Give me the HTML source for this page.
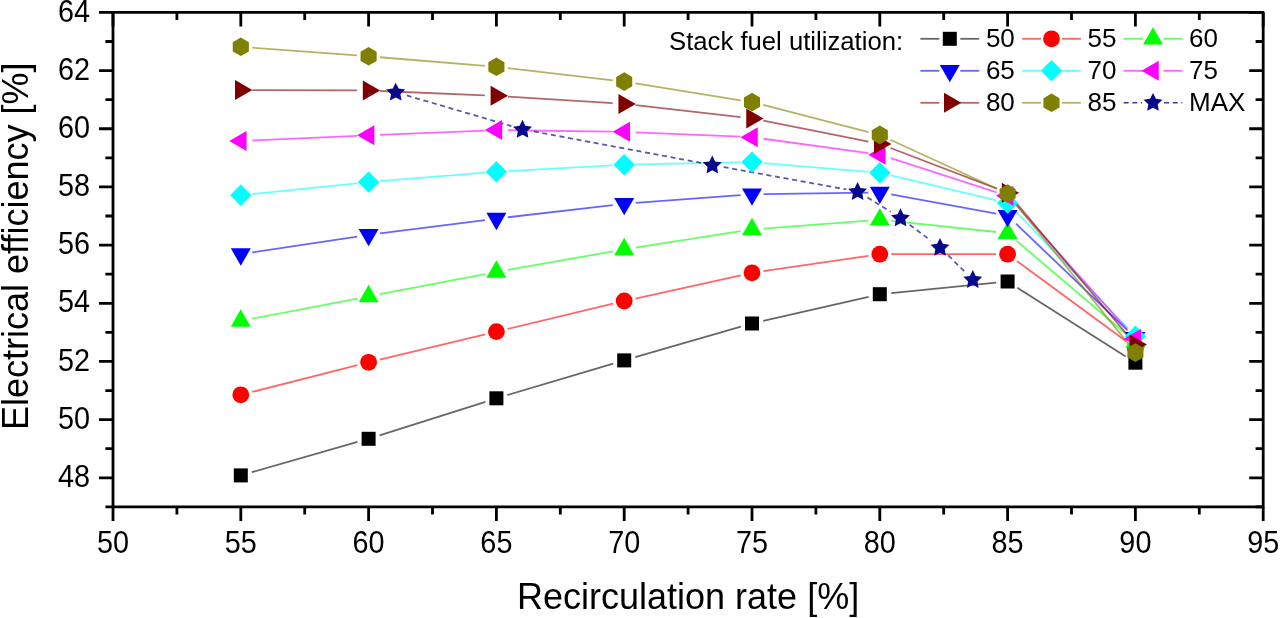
<!DOCTYPE html><html><head><meta charset="utf-8"><style>html,body{margin:0;padding:0;background:#fff;width:1280px;height:618px;overflow:hidden}svg{display:block;will-change:transform}text{font-family:'Liberation Sans',sans-serif;fill:#000}</style></head><body>
<svg width="1280" height="618" viewBox="0 0 1280 618">
<rect width="1280" height="618" fill="#fff"/>
<line x1="251.86" y1="472.23" x2="357.54" y2="441.97" stroke="#000000" stroke-width="1.8" stroke-opacity="0.6"/><line x1="379.56" y1="435.33" x2="485.44" y2="401.77" stroke="#000000" stroke-width="1.8" stroke-opacity="0.6"/><line x1="507.43" y1="395.03" x2="613.17" y2="363.67" stroke="#000000" stroke-width="1.8" stroke-opacity="0.6"/><line x1="635.25" y1="357.21" x2="740.95" y2="326.69" stroke="#000000" stroke-width="1.8" stroke-opacity="0.6"/><line x1="763.21" y1="320.93" x2="868.59" y2="296.77" stroke="#000000" stroke-width="1.8" stroke-opacity="0.6"/><line x1="891.24" y1="293.06" x2="996.16" y2="282.64" stroke="#000000" stroke-width="1.8" stroke-opacity="0.6"/><line x1="1017.31" y1="287.67" x2="1125.69" y2="356.53" stroke="#000000" stroke-width="1.8" stroke-opacity="0.6"/>
<line x1="251.95" y1="391.97" x2="357.45" y2="365.13" stroke="#ff0000" stroke-width="1.8" stroke-opacity="0.6"/><line x1="379.78" y1="359.61" x2="485.22" y2="334.29" stroke="#ff0000" stroke-width="1.8" stroke-opacity="0.6"/><line x1="507.58" y1="328.92" x2="613.02" y2="303.68" stroke="#ff0000" stroke-width="1.8" stroke-opacity="0.6"/><line x1="635.43" y1="298.52" x2="740.77" y2="275.28" stroke="#ff0000" stroke-width="1.8" stroke-opacity="0.6"/><line x1="763.38" y1="271.14" x2="868.42" y2="255.86" stroke="#ff0000" stroke-width="1.8" stroke-opacity="0.6"/><line x1="891.30" y1="254.20" x2="996.10" y2="254.20" stroke="#ff0000" stroke-width="1.8" stroke-opacity="0.6"/><line x1="1016.87" y1="261.00" x2="1126.13" y2="341.20" stroke="#ff0000" stroke-width="1.8" stroke-opacity="0.6"/>
<line x1="252.09" y1="318.73" x2="357.31" y2="298.57" stroke="#00ff00" stroke-width="1.8" stroke-opacity="0.6"/><line x1="379.89" y1="294.23" x2="485.11" y2="274.07" stroke="#00ff00" stroke-width="1.8" stroke-opacity="0.6"/><line x1="507.73" y1="269.91" x2="612.87" y2="251.39" stroke="#00ff00" stroke-width="1.8" stroke-opacity="0.6"/><line x1="635.56" y1="247.62" x2="740.64" y2="231.18" stroke="#00ff00" stroke-width="1.8" stroke-opacity="0.6"/><line x1="763.47" y1="228.53" x2="868.33" y2="220.57" stroke="#00ff00" stroke-width="1.8" stroke-opacity="0.6"/><line x1="891.24" y1="220.91" x2="996.16" y2="231.99" stroke="#00ff00" stroke-width="1.8" stroke-opacity="0.6"/><line x1="1016.36" y1="240.65" x2="1126.64" y2="334.55" stroke="#00ff00" stroke-width="1.8" stroke-opacity="0.6"/>
<line x1="252.17" y1="252.38" x2="357.23" y2="236.52" stroke="#0000ff" stroke-width="1.8" stroke-opacity="0.6"/><line x1="380.01" y1="233.35" x2="484.99" y2="220.05" stroke="#0000ff" stroke-width="1.8" stroke-opacity="0.6"/><line x1="507.82" y1="217.28" x2="612.78" y2="205.12" stroke="#0000ff" stroke-width="1.8" stroke-opacity="0.6"/><line x1="635.67" y1="202.95" x2="740.53" y2="195.15" stroke="#0000ff" stroke-width="1.8" stroke-opacity="0.6"/><line x1="763.50" y1="194.13" x2="868.30" y2="192.57" stroke="#0000ff" stroke-width="1.8" stroke-opacity="0.6"/><line x1="891.11" y1="194.46" x2="996.29" y2="213.64" stroke="#0000ff" stroke-width="1.8" stroke-opacity="0.6"/><line x1="1015.92" y1="223.64" x2="1127.08" y2="329.86" stroke="#0000ff" stroke-width="1.8" stroke-opacity="0.6"/>
<line x1="252.24" y1="194.12" x2="357.16" y2="183.28" stroke="#00ffff" stroke-width="1.8" stroke-opacity="0.6"/><line x1="380.06" y1="181.17" x2="484.94" y2="172.63" stroke="#00ffff" stroke-width="1.8" stroke-opacity="0.6"/><line x1="507.88" y1="171.07" x2="612.72" y2="165.33" stroke="#00ffff" stroke-width="1.8" stroke-opacity="0.6"/><line x1="635.70" y1="164.47" x2="740.50" y2="162.33" stroke="#00ffff" stroke-width="1.8" stroke-opacity="0.6"/><line x1="763.46" y1="163.06" x2="868.34" y2="171.84" stroke="#00ffff" stroke-width="1.8" stroke-opacity="0.6"/><line x1="890.99" y1="175.44" x2="996.41" y2="200.36" stroke="#00ffff" stroke-width="1.8" stroke-opacity="0.6"/><line x1="1015.56" y1="211.30" x2="1127.44" y2="327.90" stroke="#00ffff" stroke-width="1.8" stroke-opacity="0.6"/>
<line x1="252.29" y1="140.49" x2="357.11" y2="135.81" stroke="#ff00ff" stroke-width="1.8" stroke-opacity="0.6"/><line x1="380.09" y1="134.83" x2="484.91" y2="130.57" stroke="#ff00ff" stroke-width="1.8" stroke-opacity="0.6"/><line x1="507.90" y1="130.25" x2="612.70" y2="131.65" stroke="#ff00ff" stroke-width="1.8" stroke-opacity="0.6"/><line x1="635.69" y1="132.29" x2="740.51" y2="136.71" stroke="#ff00ff" stroke-width="1.8" stroke-opacity="0.6"/><line x1="763.39" y1="138.76" x2="868.41" y2="153.14" stroke="#ff00ff" stroke-width="1.8" stroke-opacity="0.6"/><line x1="890.75" y1="158.22" x2="996.65" y2="192.28" stroke="#ff00ff" stroke-width="1.8" stroke-opacity="0.6"/><line x1="1015.27" y1="204.37" x2="1127.73" y2="330.13" stroke="#ff00ff" stroke-width="1.8" stroke-opacity="0.6"/>
<line x1="252.30" y1="90.04" x2="357.10" y2="90.46" stroke="#800000" stroke-width="1.8" stroke-opacity="0.6"/><line x1="380.09" y1="90.98" x2="484.91" y2="95.32" stroke="#800000" stroke-width="1.8" stroke-opacity="0.6"/><line x1="507.88" y1="96.53" x2="612.72" y2="103.17" stroke="#800000" stroke-width="1.8" stroke-opacity="0.6"/><line x1="635.63" y1="105.21" x2="740.57" y2="117.19" stroke="#800000" stroke-width="1.8" stroke-opacity="0.6"/><line x1="763.28" y1="120.74" x2="868.52" y2="141.66" stroke="#800000" stroke-width="1.8" stroke-opacity="0.6"/><line x1="890.54" y1="148.01" x2="996.86" y2="188.69" stroke="#800000" stroke-width="1.8" stroke-opacity="0.6"/><line x1="1015.01" y1="201.59" x2="1127.99" y2="335.71" stroke="#800000" stroke-width="1.8" stroke-opacity="0.6"/>
<line x1="252.27" y1="47.65" x2="357.13" y2="55.45" stroke="#808000" stroke-width="1.8" stroke-opacity="0.6"/><line x1="380.06" y1="57.24" x2="484.94" y2="65.86" stroke="#808000" stroke-width="1.8" stroke-opacity="0.6"/><line x1="507.82" y1="68.12" x2="612.78" y2="80.28" stroke="#808000" stroke-width="1.8" stroke-opacity="0.6"/><line x1="635.55" y1="83.42" x2="740.65" y2="100.28" stroke="#808000" stroke-width="1.8" stroke-opacity="0.6"/><line x1="763.14" y1="104.96" x2="868.66" y2="132.04" stroke="#808000" stroke-width="1.8" stroke-opacity="0.6"/><line x1="890.25" y1="139.70" x2="997.15" y2="188.80" stroke="#808000" stroke-width="1.8" stroke-opacity="0.6"/><line x1="1014.80" y1="202.56" x2="1128.20" y2="343.64" stroke="#808000" stroke-width="1.8" stroke-opacity="0.6"/>
<line x1="406.74" y1="95.43" x2="511.46" y2="126.07" stroke="#000080" stroke-width="1.8" stroke-opacity="0.65" stroke-dasharray="5 3.7"/><line x1="533.80" y1="131.43" x2="701.00" y2="162.87" stroke="#000080" stroke-width="1.8" stroke-opacity="0.65" stroke-dasharray="5 3.7"/><line x1="723.61" y1="167.06" x2="846.29" y2="189.44" stroke="#000080" stroke-width="1.8" stroke-opacity="0.65" stroke-dasharray="5 3.7"/><line x1="867.40" y1="197.51" x2="890.70" y2="211.79" stroke="#000080" stroke-width="1.8" stroke-opacity="0.65" stroke-dasharray="5 3.7"/><line x1="909.70" y1="224.70" x2="930.80" y2="240.50" stroke="#000080" stroke-width="1.8" stroke-opacity="0.65" stroke-dasharray="5 3.7"/><line x1="948.22" y1="255.44" x2="964.58" y2="271.46" stroke="#000080" stroke-width="1.8" stroke-opacity="0.65" stroke-dasharray="5 3.7"/>
<rect x="233.80" y="468.40" width="14.0" height="14.0" fill="#000000"/>
<rect x="361.60" y="431.80" width="14.0" height="14.0" fill="#000000"/>
<rect x="489.40" y="391.30" width="14.0" height="14.0" fill="#000000"/>
<rect x="617.20" y="353.40" width="14.0" height="14.0" fill="#000000"/>
<rect x="745.00" y="316.50" width="14.0" height="14.0" fill="#000000"/>
<rect x="872.80" y="287.20" width="14.0" height="14.0" fill="#000000"/>
<rect x="1000.60" y="274.50" width="14.0" height="14.0" fill="#000000"/>
<rect x="1128.40" y="355.70" width="14.0" height="14.0" fill="#000000"/>
<circle cx="240.80" cy="394.80" r="8.4" fill="#ff0000"/>
<circle cx="368.60" cy="362.30" r="8.4" fill="#ff0000"/>
<circle cx="496.40" cy="331.60" r="8.4" fill="#ff0000"/>
<circle cx="624.20" cy="301.00" r="8.4" fill="#ff0000"/>
<circle cx="752.00" cy="272.80" r="8.4" fill="#ff0000"/>
<circle cx="879.80" cy="254.20" r="8.4" fill="#ff0000"/>
<circle cx="1007.60" cy="254.20" r="8.4" fill="#ff0000"/>
<circle cx="1135.40" cy="348.00" r="8.4" fill="#ff0000"/>
<polygon points="240.80,309.35 250.80,326.67 230.80,326.67" fill="#00ff00"/>
<polygon points="368.60,284.85 378.60,302.17 358.60,302.17" fill="#00ff00"/>
<polygon points="496.40,260.35 506.40,277.67 486.40,277.67" fill="#00ff00"/>
<polygon points="624.20,237.85 634.20,255.17 614.20,255.17" fill="#00ff00"/>
<polygon points="752.00,217.85 762.00,235.17 742.00,235.17" fill="#00ff00"/>
<polygon points="879.80,208.15 889.80,225.47 869.80,225.47" fill="#00ff00"/>
<polygon points="1007.60,221.65 1017.60,238.97 997.60,238.97" fill="#00ff00"/>
<polygon points="1135.40,330.45 1145.40,347.77 1125.40,347.77" fill="#00ff00"/>
<polygon points="240.80,265.65 230.80,248.33 250.80,248.33" fill="#0000ff"/>
<polygon points="368.60,246.35 358.60,229.03 378.60,229.03" fill="#0000ff"/>
<polygon points="496.40,230.15 486.40,212.83 506.40,212.83" fill="#0000ff"/>
<polygon points="624.20,215.35 614.20,198.03 634.20,198.03" fill="#0000ff"/>
<polygon points="752.00,205.85 742.00,188.53 762.00,188.53" fill="#0000ff"/>
<polygon points="879.80,203.95 869.80,186.63 889.80,186.63" fill="#0000ff"/>
<polygon points="1007.60,227.25 997.60,209.93 1017.60,209.93" fill="#0000ff"/>
<polygon points="1135.40,349.35 1125.40,332.03 1145.40,332.03" fill="#0000ff"/>
<polygon points="240.80,184.60 251.50,195.30 240.80,206.00 230.10,195.30" fill="#00ffff"/>
<polygon points="368.60,171.40 379.30,182.10 368.60,192.80 357.90,182.10" fill="#00ffff"/>
<polygon points="496.40,161.00 507.10,171.70 496.40,182.40 485.70,171.70" fill="#00ffff"/>
<polygon points="624.20,154.00 634.90,164.70 624.20,175.40 613.50,164.70" fill="#00ffff"/>
<polygon points="752.00,151.40 762.70,162.10 752.00,172.80 741.30,162.10" fill="#00ffff"/>
<polygon points="879.80,162.10 890.50,172.80 879.80,183.50 869.10,172.80" fill="#00ffff"/>
<polygon points="1007.60,192.30 1018.30,203.00 1007.60,213.70 996.90,203.00" fill="#00ffff"/>
<polygon points="1135.40,325.50 1146.10,336.20 1135.40,346.90 1124.70,336.20" fill="#00ffff"/>
<polygon points="229.25,141.00 246.57,131.00 246.57,151.00" fill="#ff00ff"/>
<polygon points="357.05,135.30 374.37,125.30 374.37,145.30" fill="#ff00ff"/>
<polygon points="484.85,130.10 502.17,120.10 502.17,140.10" fill="#ff00ff"/>
<polygon points="612.65,131.80 629.97,121.80 629.97,141.80" fill="#ff00ff"/>
<polygon points="740.45,137.20 757.77,127.20 757.77,147.20" fill="#ff00ff"/>
<polygon points="868.25,154.70 885.57,144.70 885.57,164.70" fill="#ff00ff"/>
<polygon points="996.05,195.80 1013.37,185.80 1013.37,205.80" fill="#ff00ff"/>
<polygon points="1123.85,338.70 1141.17,328.70 1141.17,348.70" fill="#ff00ff"/>
<polygon points="252.35,90.00 235.03,100.00 235.03,80.00" fill="#800000"/>
<polygon points="380.15,90.50 362.83,100.50 362.83,80.50" fill="#800000"/>
<polygon points="507.95,95.80 490.63,105.80 490.63,85.80" fill="#800000"/>
<polygon points="635.75,103.90 618.43,113.90 618.43,93.90" fill="#800000"/>
<polygon points="763.55,118.50 746.23,128.50 746.23,108.50" fill="#800000"/>
<polygon points="891.35,143.90 874.03,153.90 874.03,133.90" fill="#800000"/>
<polygon points="1019.15,192.80 1001.83,202.80 1001.83,182.80" fill="#800000"/>
<polygon points="1146.95,344.50 1129.63,354.50 1129.63,334.50" fill="#800000"/>
<polygon points="240.80,37.50 248.85,42.15 248.85,51.45 240.80,56.10 232.75,51.45 232.75,42.15" fill="#808000"/>
<polygon points="368.60,47.00 376.65,51.65 376.65,60.95 368.60,65.60 360.55,60.95 360.55,51.65" fill="#808000"/>
<polygon points="496.40,57.50 504.45,62.15 504.45,71.45 496.40,76.10 488.35,71.45 488.35,62.15" fill="#808000"/>
<polygon points="624.20,72.30 632.25,76.95 632.25,86.25 624.20,90.90 616.15,86.25 616.15,76.95" fill="#808000"/>
<polygon points="752.00,92.80 760.05,97.45 760.05,106.75 752.00,111.40 743.95,106.75 743.95,97.45" fill="#808000"/>
<polygon points="879.80,125.60 887.85,130.25 887.85,139.55 879.80,144.20 871.75,139.55 871.75,130.25" fill="#808000"/>
<polygon points="1007.60,184.30 1015.65,188.95 1015.65,198.25 1007.60,202.90 999.55,198.25 999.55,188.95" fill="#808000"/>
<polygon points="1135.40,343.30 1143.45,347.95 1143.45,357.25 1135.40,361.90 1127.35,357.25 1127.35,347.95" fill="#808000"/>
<polygon points="395.70,82.70 398.61,88.60 405.12,89.54 400.41,94.13 401.52,100.61 395.70,97.55 389.88,100.61 390.99,94.13 386.28,89.54 392.79,88.60" fill="#08088c"/>
<polygon points="522.50,119.80 525.41,125.70 531.92,126.64 527.21,131.23 528.32,137.71 522.50,134.65 516.68,137.71 517.79,131.23 513.08,126.64 519.59,125.70" fill="#08088c"/>
<polygon points="712.30,155.50 715.21,161.40 721.72,162.34 717.01,166.93 718.12,173.41 712.30,170.35 706.48,173.41 707.59,166.93 702.88,162.34 709.39,161.40" fill="#08088c"/>
<polygon points="857.60,182.00 860.51,187.90 867.02,188.84 862.31,193.43 863.42,199.91 857.60,196.85 851.78,199.91 852.89,193.43 848.18,188.84 854.69,187.90" fill="#08088c"/>
<polygon points="900.50,208.30 903.41,214.20 909.92,215.14 905.21,219.73 906.32,226.21 900.50,223.15 894.68,226.21 895.79,219.73 891.08,215.14 897.59,214.20" fill="#08088c"/>
<polygon points="940.00,237.90 942.91,243.80 949.42,244.74 944.71,249.33 945.82,255.81 940.00,252.75 934.18,255.81 935.29,249.33 930.58,244.74 937.09,243.80" fill="#08088c"/>
<polygon points="972.80,270.00 975.71,275.90 982.22,276.84 977.51,281.43 978.62,287.91 972.80,284.85 966.98,287.91 968.09,281.43 963.38,276.84 969.89,275.90" fill="#08088c"/>
<g stroke="#000" stroke-width="2.8" fill="none" stroke-linecap="butt" stroke-linejoin="round">
<rect x="113.00" y="12.40" width="1150.20" height="494.49"/>
<path d="M113.00,506.89v14.0M113.00,12.40v14.0M176.90,506.89v7.6M176.90,12.40v7.6M240.80,506.89v14.0M240.80,12.40v14.0M304.70,506.89v7.6M304.70,12.40v7.6M368.60,506.89v14.0M368.60,12.40v14.0M432.50,506.89v7.6M432.50,12.40v7.6M496.40,506.89v14.0M496.40,12.40v14.0M560.30,506.89v7.6M560.30,12.40v7.6M624.20,506.89v14.0M624.20,12.40v14.0M688.10,506.89v7.6M688.10,12.40v7.6M752.00,506.89v14.0M752.00,12.40v14.0M815.90,506.89v7.6M815.90,12.40v7.6M879.80,506.89v14.0M879.80,12.40v14.0M943.70,506.89v7.6M943.70,12.40v7.6M1007.60,506.89v14.0M1007.60,12.40v14.0M1071.50,506.89v7.6M1071.50,12.40v7.6M1135.40,506.89v14.0M1135.40,12.40v14.0M1199.30,506.89v7.6M1199.30,12.40v7.6M1263.20,506.89v14.0M1263.20,12.40v14.0M113.00,506.89h-7.6M1263.20,506.89h-7.6M113.00,477.80h-14.0M1263.20,477.80h-14.0M113.00,448.71h-7.6M1263.20,448.71h-7.6M113.00,419.62h-14.0M1263.20,419.62h-14.0M113.00,390.54h-7.6M1263.20,390.54h-7.6M113.00,361.45h-14.0M1263.20,361.45h-14.0M113.00,332.36h-7.6M1263.20,332.36h-7.6M113.00,303.28h-14.0M1263.20,303.28h-14.0M113.00,274.19h-7.6M1263.20,274.19h-7.6M113.00,245.10h-14.0M1263.20,245.10h-14.0M113.00,216.01h-7.6M1263.20,216.01h-7.6M113.00,186.93h-14.0M1263.20,186.93h-14.0M113.00,157.84h-7.6M1263.20,157.84h-7.6M113.00,128.75h-14.0M1263.20,128.75h-14.0M113.00,99.66h-7.6M1263.20,99.66h-7.6M113.00,70.58h-14.0M1263.20,70.58h-14.0M113.00,41.49h-7.6M1263.20,41.49h-7.6M113.00,12.40h-14.0M1263.20,12.40h-14.0"/>
</g>
<text transform="translate(113.00,553.0) scale(0.93,1)" font-size="31" text-anchor="middle">50</text>
<text transform="translate(240.80,553.0) scale(0.93,1)" font-size="31" text-anchor="middle">55</text>
<text transform="translate(368.60,553.0) scale(0.93,1)" font-size="31" text-anchor="middle">60</text>
<text transform="translate(496.40,553.0) scale(0.93,1)" font-size="31" text-anchor="middle">65</text>
<text transform="translate(624.20,553.0) scale(0.93,1)" font-size="31" text-anchor="middle">70</text>
<text transform="translate(752.00,553.0) scale(0.93,1)" font-size="31" text-anchor="middle">75</text>
<text transform="translate(879.80,553.0) scale(0.93,1)" font-size="31" text-anchor="middle">80</text>
<text transform="translate(1007.60,553.0) scale(0.93,1)" font-size="31" text-anchor="middle">85</text>
<text transform="translate(1135.40,553.0) scale(0.93,1)" font-size="31" text-anchor="middle">90</text>
<text transform="translate(1263.20,553.0) scale(0.93,1)" font-size="31" text-anchor="middle">95</text>
<text transform="translate(90.0,487.00) scale(0.93,1)" font-size="31" text-anchor="end">48</text>
<text transform="translate(90.0,428.82) scale(0.93,1)" font-size="31" text-anchor="end">50</text>
<text transform="translate(90.0,370.65) scale(0.93,1)" font-size="31" text-anchor="end">52</text>
<text transform="translate(90.0,312.48) scale(0.93,1)" font-size="31" text-anchor="end">54</text>
<text transform="translate(90.0,254.30) scale(0.93,1)" font-size="31" text-anchor="end">56</text>
<text transform="translate(90.0,196.12) scale(0.93,1)" font-size="31" text-anchor="end">58</text>
<text transform="translate(90.0,137.95) scale(0.93,1)" font-size="31" text-anchor="end">60</text>
<text transform="translate(90.0,79.78) scale(0.93,1)" font-size="31" text-anchor="end">62</text>
<text transform="translate(90.0,21.60) scale(0.93,1)" font-size="31" text-anchor="end">64</text>
<text x="517" y="608.5" font-size="36">Recirculation rate [%]</text>
<text transform="translate(28.2,430) rotate(-90)" x="0" y="0" font-size="36">Electrical efficiency [%]</text>
<text x="669" y="50" font-size="25.7">Stack fuel utilization:</text>
<line x1="920.40" y1="38.8" x2="939.30" y2="38.8" stroke="#000000" stroke-width="1.8" stroke-opacity="0.6"/>
<line x1="960.30" y1="38.8" x2="979.20" y2="38.8" stroke="#000000" stroke-width="1.8" stroke-opacity="0.6"/>
<rect x="942.80" y="31.80" width="14.0" height="14.0" fill="#000000"/>
<text x="985.90" y="47.40" font-size="26">50</text>
<line x1="1022.10" y1="38.8" x2="1041.00" y2="38.8" stroke="#ff0000" stroke-width="1.8" stroke-opacity="0.6"/>
<line x1="1062.00" y1="38.8" x2="1080.90" y2="38.8" stroke="#ff0000" stroke-width="1.8" stroke-opacity="0.6"/>
<circle cx="1051.50" cy="38.80" r="8.4" fill="#ff0000"/>
<text x="1087.60" y="47.40" font-size="26">55</text>
<line x1="1123.60" y1="38.8" x2="1142.50" y2="38.8" stroke="#00ff00" stroke-width="1.8" stroke-opacity="0.6"/>
<line x1="1163.50" y1="38.8" x2="1182.40" y2="38.8" stroke="#00ff00" stroke-width="1.8" stroke-opacity="0.6"/>
<polygon points="1153.00,27.25 1163.00,44.57 1143.00,44.57" fill="#00ff00"/>
<text x="1189.10" y="47.40" font-size="26">60</text>
<line x1="920.40" y1="70.8" x2="939.30" y2="70.8" stroke="#0000ff" stroke-width="1.8" stroke-opacity="0.6"/>
<line x1="960.30" y1="70.8" x2="979.20" y2="70.8" stroke="#0000ff" stroke-width="1.8" stroke-opacity="0.6"/>
<polygon points="949.80,82.35 939.80,65.03 959.80,65.03" fill="#0000ff"/>
<text x="985.90" y="79.40" font-size="26">65</text>
<line x1="1022.10" y1="70.8" x2="1041.00" y2="70.8" stroke="#00ffff" stroke-width="1.8" stroke-opacity="0.6"/>
<line x1="1062.00" y1="70.8" x2="1080.90" y2="70.8" stroke="#00ffff" stroke-width="1.8" stroke-opacity="0.6"/>
<polygon points="1051.50,60.10 1062.20,70.80 1051.50,81.50 1040.80,70.80" fill="#00ffff"/>
<text x="1087.60" y="79.40" font-size="26">70</text>
<line x1="1123.60" y1="70.8" x2="1142.50" y2="70.8" stroke="#ff00ff" stroke-width="1.8" stroke-opacity="0.6"/>
<line x1="1163.50" y1="70.8" x2="1182.40" y2="70.8" stroke="#ff00ff" stroke-width="1.8" stroke-opacity="0.6"/>
<polygon points="1141.45,70.80 1158.77,60.80 1158.77,80.80" fill="#ff00ff"/>
<text x="1189.10" y="79.40" font-size="26">75</text>
<line x1="920.40" y1="102.8" x2="939.30" y2="102.8" stroke="#800000" stroke-width="1.8" stroke-opacity="0.6"/>
<line x1="960.30" y1="102.8" x2="979.20" y2="102.8" stroke="#800000" stroke-width="1.8" stroke-opacity="0.6"/>
<polygon points="961.35,102.80 944.03,112.80 944.03,92.80" fill="#800000"/>
<text x="985.90" y="111.40" font-size="26">80</text>
<line x1="1022.10" y1="102.8" x2="1041.00" y2="102.8" stroke="#808000" stroke-width="1.8" stroke-opacity="0.6"/>
<line x1="1062.00" y1="102.8" x2="1080.90" y2="102.8" stroke="#808000" stroke-width="1.8" stroke-opacity="0.6"/>
<polygon points="1051.50,93.50 1059.55,98.15 1059.55,107.45 1051.50,112.10 1043.45,107.45 1043.45,98.15" fill="#808000"/>
<text x="1087.60" y="111.40" font-size="26">85</text>
<line x1="1123.60" y1="102.8" x2="1142.00" y2="102.8" stroke="#000080" stroke-width="1.5" stroke-opacity="0.75" stroke-dasharray="5 3.7"/>
<line x1="1164.00" y1="102.8" x2="1182.40" y2="102.8" stroke="#000080" stroke-width="1.5" stroke-opacity="0.75" stroke-dasharray="5 3.7"/>
<polygon points="1153.00,92.90 1155.91,98.80 1162.42,99.74 1157.71,104.33 1158.82,110.81 1153.00,107.75 1147.18,110.81 1148.29,104.33 1143.58,99.74 1150.09,98.80" fill="#08088c"/>
<text x="1189.10" y="111.40" font-size="26">MAX</text>
</svg></body></html>
